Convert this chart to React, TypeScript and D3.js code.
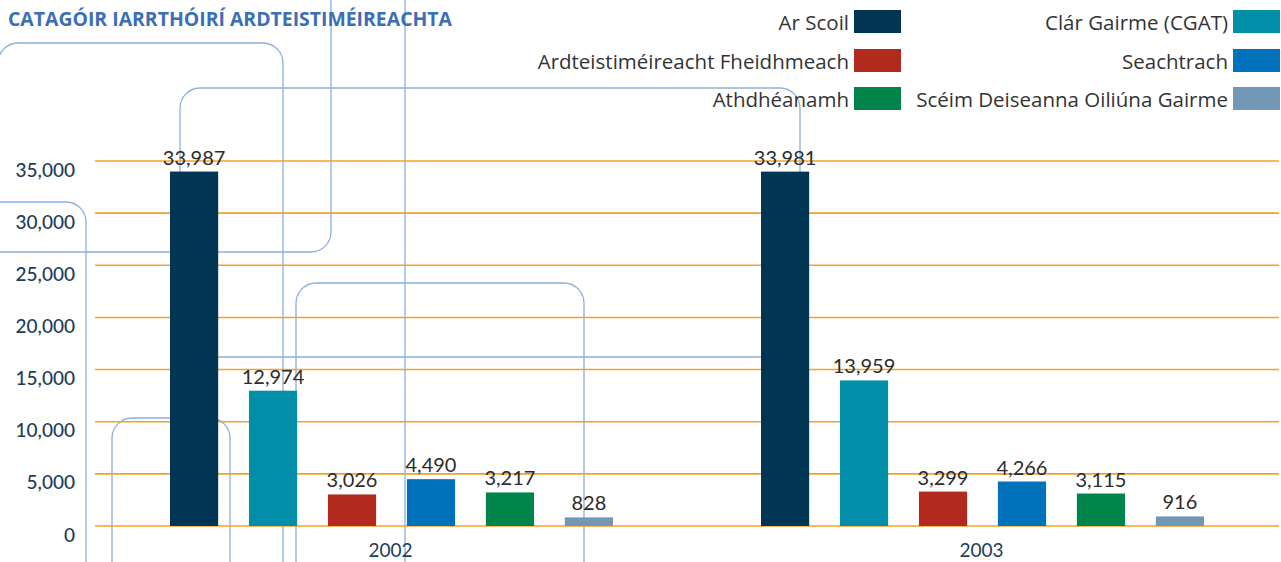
import React from "react";
import * as d3 from "d3";

const title = "CATAGÓIR IARRTHÓIRÍ ARDTEISTIMÉIREACHTA";
const categories = ["2002", "2003"];
const seriesNames = [
  "Ar Scoil",
  "Clár Gairme (CGAT)",
  "Ardteistiméireacht Fheidhmeach",
  "Seachtrach",
  "Athdhéanamh",
  "Scéim Deiseanna Oiliúna Gairme",
];
const seriesColors = ["#003554", "#008ea8", "#b22a1e", "#0072bc", "#00844a", "#7297b4"];
const values2002 = [33987, 12974, 3026, 4490, 3217, 828];
const values2003 = [33981, 13959, 3299, 4266, 3115, 916];
const yTicks = [0, 5000, 10000, 15000, 20000, 25000, 30000, 35000];

const W = 1281;
const H = 562;

export default function App() {
  const valuesByCat = [values2002, values2003];
  const x0 = d3.scaleBand<string>().domain(categories).range([95, 1277]).padding(0);
  const x1 = d3.scaleBand<string>().domain(seriesNames).range([75, 518]).paddingInner(0.39).paddingOuter(0);
  const y = d3.scaleLinear().domain([0, 35000]).range([526, 161]);
  const fmt = d3.format(",");

  const deco = "#8aaede";
  const r = 20;
  const decoPaths = [
    `M -2 90 V ${43 + r} A ${r} ${r} 0 0 1 ${-2 + r} 43 H ${283 - r} A ${r} ${r} 0 0 1 283 ${43 + r} V ${H}`,
    `M 331 0 V ${252 - r} A ${r} ${r} 0 0 1 ${331 - r} 252 H 0`,
    `M 0 202 H ${86 - r} A ${r} ${r} 0 0 1 86 ${202 + r} V ${H}`,
    `M ${180 + r} 88 H ${800 - r} A ${r} ${r} 0 0 1 800 ${88 + r} V ${357 - r} A ${r} ${r} 0 0 1 ${800 - r} 357 H ${180 + r} A ${r} ${r} 0 0 1 180 ${357 - r} V ${88 + r} A ${r} ${r} 0 0 1 ${180 + r} 88 Z`,
    `M 405 0 V ${H}`,
    `M 296 ${H} V ${283 + r} A ${r} ${r} 0 0 1 ${296 + r} 283 H ${584 - r} A ${r} ${r} 0 0 1 584 ${283 + r} V ${H}`,
    `M 112 ${H} V ${418 + r} A ${r} ${r} 0 0 1 ${112 + r} 418 H ${230 - r} A ${r} ${r} 0 0 1 230 ${418 + r} V ${H}`,
  ];

  const legendCols = [854, 1233];
  const legendRows = [10, 49, 87];

  return (
    <svg
      width={W}
      height={H}
      style={{ position: "absolute", left: 0, top: 0, background: "#fff", overflow: "hidden" }}
    >
      <rect x={0} y={0} width={W} height={H} fill="#fff" />
      {decoPaths.map((d, i) => (
        <path key={i} d={d} fill="none" stroke={deco} strokeWidth={1.3} />
      ))}
      <text
        x={8}
        y={26}
        fontFamily="'Open Sans', sans-serif"
        fontWeight={700}
        fontSize={20}
        fill="#3c6eb4"
        textLength={444}
        lengthAdjust="spacingAndGlyphs"
      >
        {title}
      </text>
      {yTicks.map((t) => (
        <g key={t}>
          <line x1={95} x2={1279} y1={y(t)} y2={y(t)} stroke="#f5a02a" strokeWidth={1.6} />
          <text
            x={75}
            y={y(t) + 8}
            textAnchor="end"
            dominantBaseline="central"
            fontFamily="Lato, sans-serif"
            fontWeight={500}
            fontSize={19}
            fill="#1c3d5a"
          >
            {t === 0 ? "0" : fmt(t)}
          </text>
        </g>
      ))}
      {categories.map((c, ci) => (
        <g key={c} transform={`translate(${x0(c)},0)`}>
          {seriesNames.map((s, si) => {
            const v = valuesByCat[ci][si];
            const bx = x1(s)!;
            const bw = x1.bandwidth();
            return (
              <g key={s}>
                <rect x={bx} y={y(v)} width={bw} height={y(0) - y(v)} fill={seriesColors[si]} />
                <text
                  x={bx + bw / 2}
                  y={y(v) - 7}
                  textAnchor="middle"
                  fontFamily="Lato, sans-serif"
                  fontSize={20}
                  fill="#2b2b2b"
                >
                  {fmt(v)}
                </text>
              </g>
            );
          })}
          <text
            x={x0.bandwidth() / 2}
            y={557}
            textAnchor="middle"
            fontFamily="Lato, sans-serif"
            fontSize={19}
            fill="#1c3d5a"
          >
            {c}
          </text>
        </g>
      ))}
      {seriesNames.map((s, i) => {
        const col = i % 2;
        const row = Math.floor(i / 2);
        const sx = legendCols[col];
        const sy = legendRows[row];
        return (
          <g key={s}>
            <rect x={sx} y={sy} width={47} height={23} fill={seriesColors[i]} />
            <text
              x={sx - 5}
              y={sy + 12}
              textAnchor="end"
              dominantBaseline="central"
              fontFamily="'Open Sans', sans-serif"
              fontSize={20.5}
              fill="#333"
            >
              {s}
            </text>
          </g>
        );
      })}
    </svg>
  );
}
